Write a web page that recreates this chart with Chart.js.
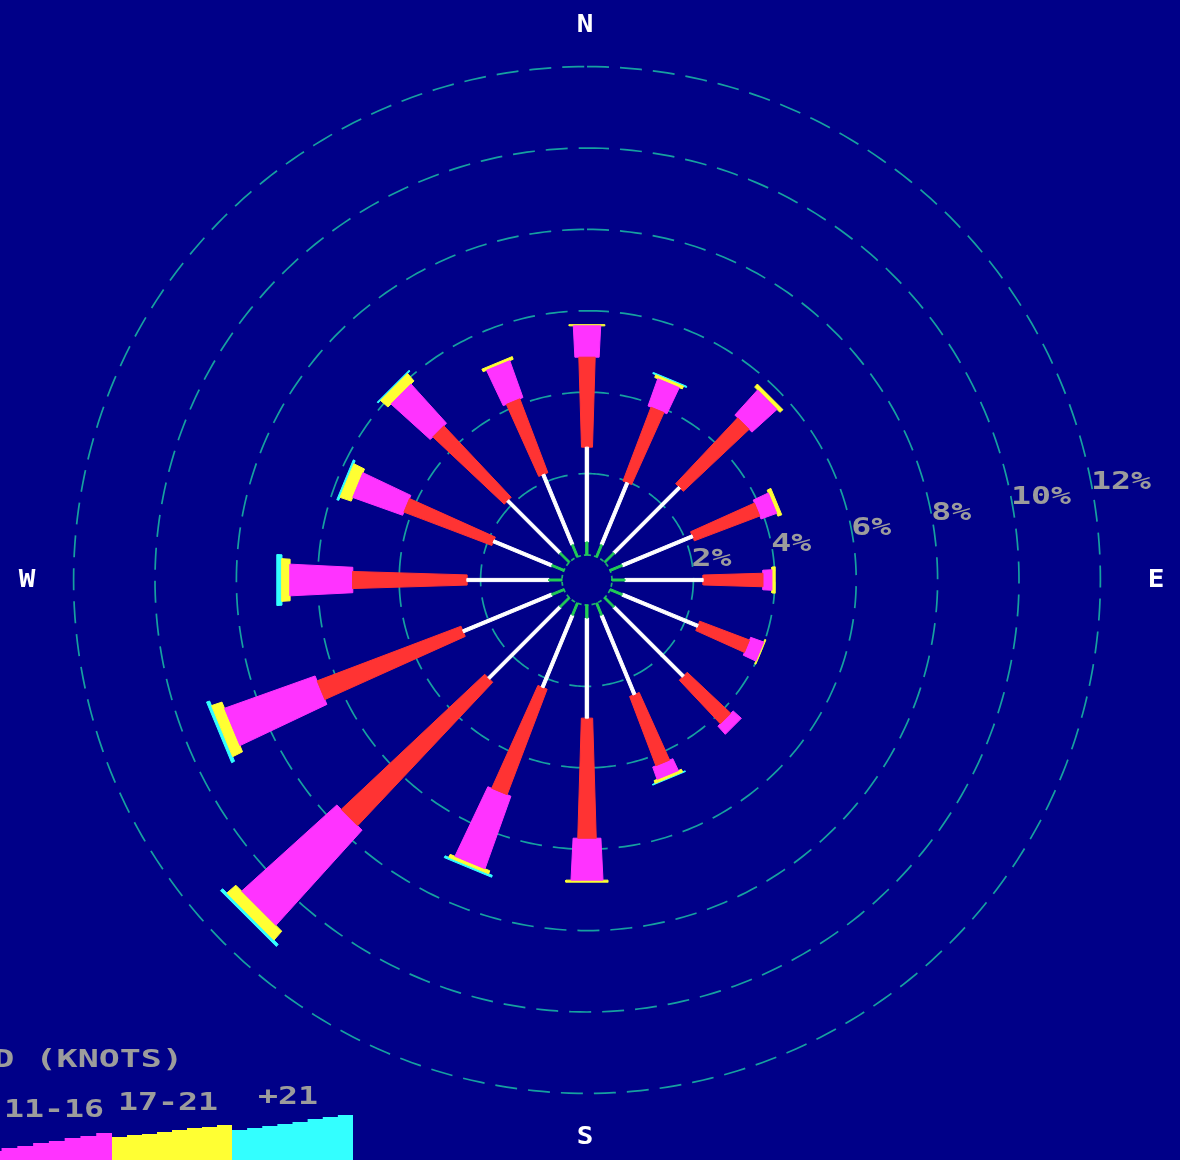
<!DOCTYPE html>
<html><head><meta charset="utf-8">
<script src="https://cdn.jsdelivr.net/npm/chart.js@4.4.0/dist/chart.umd.min.js"></script>
<style>html,body{margin:0;padding:0;background:#000088;overflow:hidden}canvas{display:block;background:#000088}</style>
</head><body>
<canvas id="c" width="1180" height="1160"></canvas>
<script>
// ---- data (percent of observations) ----
const directions = ['N','NNE','NE','ENE','E','ESE','SE','SSE','S','SSW','SW','WSW','W','WNW','NW','NNW'];
const speedClasses = ['1-3','4-6','7-10','11-16','17-21','+21'];
const s1_3   = [0.32,0.32,0.32,0.32,0.32,0.32,0.32,0.32,0.32,0.32,0.32,0.32,0.32,0.32,0.32,0.32];
const s4_6   = [2.33,1.65,2.28,1.87,1.92,2.01,2.41,2.11,2.46,1.92,2.48,2.36,2.01,1.55,1.82,1.87];
const s7_10  = [2.21,1.94,2.22,1.72,1.47,1.31,1.47,1.82,2.95,2.77,4.84,3.78,2.81,2.31,2.41,1.94];
const s11_16 = [0.77,0.71,0.83,0.41,0.22,0.34,0.27,0.32,1.03,1.89,3.15,2.36,1.54,1.30,1.30,0.96];
const s17_21 = [0.03,0.07,0.10,0.10,0.08,0.03,0.00,0.07,0.05,0.08,0.29,0.27,0.20,0.29,0.24,0.07];
const s21p   = [0.00,0.03,0.00,0.00,0.00,0.00,0.00,0.02,0.00,0.05,0.07,0.08,0.12,0.05,0.03,0.00];
const ringValues = [2,4,6,8,10,12];
const ringLabels = ['2%','4%','6%','8%','10%','12%'];
const compassLabels = ['N','E','S','W'];
const legendLabels = ['11-16','17-21','+21'];
const legendTitle = 'SPEED (KNOTS)';

// ---- geometry / style ----
const W = 1180, H = 1160, CX = 587, CY = 580;
const PX = 40.7;            // pixels per percent
const OFF = 25 / PX;        // calm circle radius in percent units
const series = [s1_3, s4_6, s7_10, s11_16, s17_21, s21p];
const colors = ['#22cc55','#ffffff','#ff3333','#ff33ff','#ffff33','#33ffff'];
function widthPx(k, r) {
  return [2, 3.2, 3 + 0.06 * r, 2 + 0.1 * r, 0.14 * r, 0.165 * r][k];
}

const datasets = [];
directions.forEach((d, i) => {
  const th = i * Math.PI / 8;
  const ux = Math.sin(th), uy = Math.cos(th);
  const qx = Math.cos(th), qy = -Math.sin(th);
  let cum = 0;
  series.forEach((s, k) => {
    const v = s[i];
    if (!(v > 0)) return;
    const r0 = OFF + cum, r1 = OFF + cum + v;
    cum += v;
    const h0 = widthPx(k, r0 * PX) / 2 / PX, h1 = widthPx(k, r1 * PX) / 2 / PX;
    const p = [
      {x: r0 * ux + h0 * qx, y: r0 * uy + h0 * qy},
      {x: r1 * ux + h1 * qx, y: r1 * uy + h1 * qy},
      {x: r1 * ux - h1 * qx, y: r1 * uy - h1 * qy},
      {x: r0 * ux - h0 * qx, y: r0 * uy - h0 * qy}
    ];
    p.push({x: p[0].x, y: p[0].y});
    datasets.push({label: d + ' ' + speedClasses[k], data: p, borderColor: colors[k],
      backgroundColor: colors[k], borderWidth: 1, fill: 'shape', pointRadius: 0, order: 1});
  });
});

// rings
[0].concat(ringValues).forEach((v) => {
  const pts = [];
  const r = OFF + v;
  for (let a = 0; a <= 360; a += 1) {
    const t = a * Math.PI / 180;
    pts.push({x: r * Math.sin(t), y: r * Math.cos(t)});
  }
  datasets.push({label: 'ring ' + v, data: pts, borderColor: v === 0 ? '#20b070' : '#16a0a0',
    borderWidth: 1.7, borderDash: v === 0 ? [4, 3] : [22, 11], fill: false, pointRadius: 0, order: 5});
});

function drawText(ctx, txt, x, y, align, color, sx, size) {
  ctx.save();
  ctx.font = 'bold ' + size + 'px "DejaVu Sans Mono"';
  ctx.fillStyle = color;
  ctx.textBaseline = 'middle';
  ctx.textAlign = 'left';
  const w = ctx.measureText(txt).width * sx;
  const left = align === 'left' ? x : align === 'right' ? x - w : x - w / 2;
  ctx.translate(left, y);
  ctx.scale(sx, 1);
  ctx.fillText(txt, 0, 0);
  ctx.restore();
}

const decor = {
  id: 'decor',
  afterDraw(chart) {
    const ctx = chart.ctx;
    const xs = chart.scales.x, ys = chart.scales.y;
    const grey = '#9c9c9c';
    // ring labels
    const ang = 11 * Math.PI / 180;
    ringValues.forEach((v, i) => {
      const r = OFF + v;
      const x = xs.getPixelForValue(r * Math.cos(ang));
      const y = ys.getPixelForValue(r * Math.sin(ang));
      drawText(ctx, ringLabels[i], x, y, 'left', grey, 1.33, 25);
    });
    // compass
    const cpos = [[585, 26], [1156, 581], [585, 1138], [27, 581]];
    compassLabels.forEach((t, i) => drawText(ctx, t, cpos[i][0], cpos[i][1], 'center', '#ffffff', 1.15, 24));
    // legend swatches
    const sw = [['#ff33ff', -30, 1153, 112, 1131], ['#ffff33', 112, 1137, 232, 1123], ['#33ffff', 232, 1130, 353, 1113]];
    sw.forEach(([c, x0, y0, x1, y1]) => {
      ctx.save();
      ctx.fillStyle = c;
      ctx.beginPath();
      const steps = Math.round((x1 - x0) / 15);
      ctx.moveTo(x0, H);
      for (let s = 0; s < steps; s++) {
        const xa = x0 + (x1 - x0) * s / steps, xb = x0 + (x1 - x0) * (s + 1) / steps;
        const yy = Math.round(y0 + (y1 - y0) * s / steps);
        ctx.lineTo(xa, yy); ctx.lineTo(xb, yy);
      }
      ctx.lineTo(x1, y1); ctx.lineTo(x1, H);
      ctx.closePath(); ctx.fill();
      ctx.restore();
    });
    drawText(ctx, legendLabels[0], 4, 1110, 'left', grey, 1.33, 25);
    drawText(ctx, legendLabels[1], 118, 1103, 'left', grey, 1.33, 25);
    drawText(ctx, legendLabels[2], 258, 1097, 'left', grey, 1.33, 25);
    drawText(ctx, legendTitle, 183, 1060, 'right', grey, 1.4, 25);
  }
};

new Chart(document.getElementById('c'), {
  type: 'line',
  data: {datasets},
  options: {
    responsive: false, animation: false, events: [],
    layout: {padding: 0},
    scales: {
      x: {type: 'linear', display: false, min: -CX / PX, max: (W - CX) / PX},
      y: {type: 'linear', display: false, min: -(H - CY) / PX, max: CY / PX}
    },
    elements: {point: {radius: 0}, line: {tension: 0}},
    plugins: {legend: {display: false}, tooltip: {enabled: false}}
  },
  plugins: [decor]
});
</script>
</body></html>
